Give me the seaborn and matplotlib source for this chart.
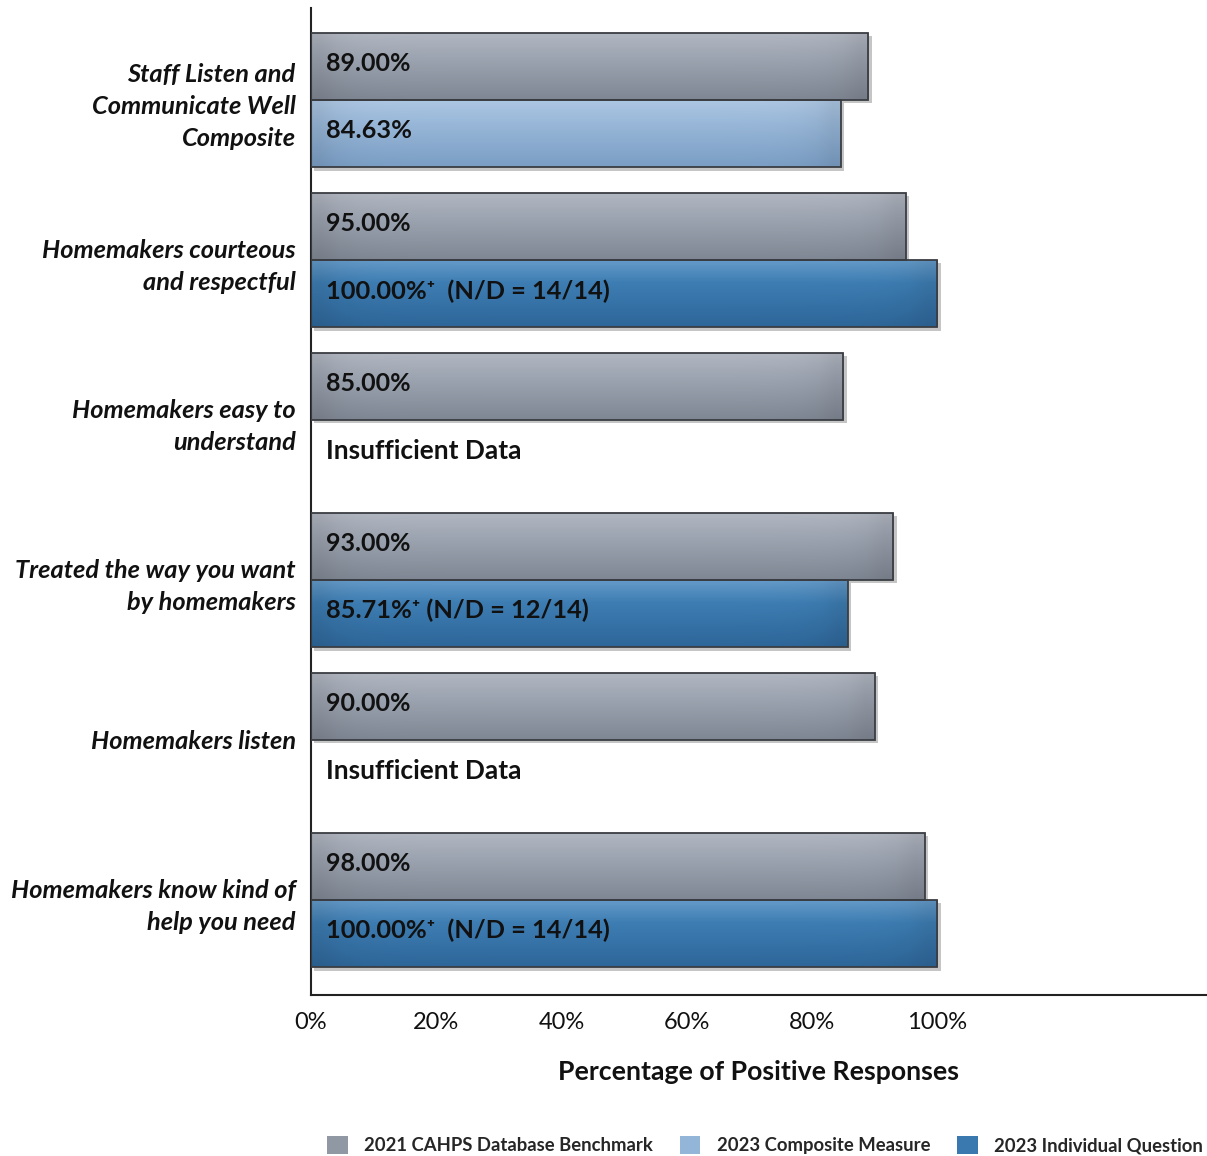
import numpy as np
import pandas as pd
import matplotlib
matplotlib.use("Agg")
import matplotlib.pyplot as plt
import matplotlib.patheffects as pe
from matplotlib.patches import Patch, Rectangle
import seaborn as sns

# ---- data ----
categories = [
    "Staff Listen and\nCommunicate Well\nComposite",
    "Homemakers courteous\nand respectful",
    "Homemakers easy to\nunderstand",
    "Treated the way you want\nby homemakers",
    "Homemakers listen",
    "Homemakers know kind of\nhelp you need",
]
benchmark_2021 = [89.00, 95.00, 85.00, 93.00, 90.00, 98.00]
results_2023 = [84.63, 100.00, None, 85.71, None, 100.00]
result_kind_2023 = ["Composite", "Individual", "Individual", "Individual", "Individual", "Individual"]
labels_2023 = [
    "84.63%",
    "100.00%\u207a  (N/D = 14/14)",
    "Insufficient Data",
    "85.71%\u207a (N/D = 12/14)",
    "Insufficient Data",
    "100.00%\u207a  (N/D = 14/14)",
]
x_ticks = [0, 20, 40, 60, 80, 100]
x_tick_labels = ["0%", "20%", "40%", "60%", "80%", "100%"]
series_names = ["2021 CAHPS Database Benchmark", "2023 Composite Measure", "2023 Individual Question"]

# ---- styling ----
sns.set_theme(style="white")
plt.rcParams["font.family"] = ["Lato", "DejaVu Sans"]

legend_colors = {"Benchmark": "#8f98a3", "Composite": "#93b5d8", "Individual": "#3a79b0"}
# vertical gradient stops (top, upper-middle, bottom) for each bar kind
gradients = {
    "Benchmark": [(0.70, 0.72, 0.76), (0.62, 0.65, 0.70), (0.50, 0.53, 0.58)],
    "Composite": [(0.68, 0.78, 0.89), (0.60, 0.72, 0.85), (0.48, 0.62, 0.77)],
    "Individual": [(0.40, 0.61, 0.79), (0.24, 0.49, 0.70), (0.18, 0.40, 0.60)],
}

rows = []
for cat, bench, val, kind in zip(categories, benchmark_2021, results_2023, result_kind_2023):
    rows.append({"category": cat, "slot": "Benchmark", "value": bench, "kind": "Benchmark"})
    if val is not None:
        rows.append({"category": cat, "slot": "2023", "value": val, "kind": kind})
df = pd.DataFrame(rows)

fig = plt.figure(figsize=(12.07, 11.56), dpi=100)
ax = fig.add_axes([311 / 1207, 1 - 995 / 1156, 1 - 311 / 1207, (995 - 8) / 1156])

sns.barplot(
    data=df, y="category", x="value", hue="slot", hue_order=["Benchmark", "2023"],
    order=categories, orient="h", dodge=True, width=0.84, gap=0,
    errorbar=None, saturation=1, legend=False, ax=ax,
)


def gradient_image(stops, n=64):
    t = np.linspace(0, 1, n)
    stops = np.array(stops)
    pos = np.array([0.0, 0.35, 1.0])
    col = np.stack([np.interp(t, pos, stops[:, c]) for c in range(3)], axis=1)
    img = np.repeat(col[:, None, :], 32, axis=1)
    # slight darkening toward the bar ends
    xs = np.linspace(0, 1, 32)
    shade = 1 - 0.08 * (np.exp(-xs / 0.04) + np.exp(-(1 - xs) / 0.04))
    return np.clip(img * shade[None, :, None], 0, 1)


kind_lookup = {}
for i, kind in enumerate(result_kind_2023):
    kind_lookup[(i, 0)] = "Benchmark"
    kind_lookup[(i, 1)] = kind

for bar in list(ax.patches):
    w = bar.get_width()
    if not np.isfinite(w) or w <= 0:
        continue
    y0, h = bar.get_y(), bar.get_height()
    yc = y0 + h / 2
    idx = int(round(yc))
    slot = 0 if yc < idx else 1
    kind = kind_lookup[(idx, slot)]
    stops = gradients[kind]
    bar.set_facecolor(stops[2])
    bar.set_edgecolor("none")
    bar.set_zorder(2)
    bar.set_path_effects([pe.SimplePatchShadow(offset=(2.5, -2.5), shadow_rgbFace="k", alpha=0.25), pe.Normal()])
    im = ax.imshow(gradient_image(stops), extent=[0, w, y0 + h, y0], aspect="auto",
                   interpolation="bilinear", zorder=2.5)
    im.set_clip_path(bar)
    outline = Rectangle((0, y0), w, h, facecolor="none", edgecolor="#3a3d42", linewidth=1.3, zorder=3)
    ax.add_patch(outline)

ax.set_xlim(0, 143.1)
ax.set_ylim(5.594, -0.575)

# value labels inside the bars
label_kw = dict(textcoords="offset points", va="center", ha="left", fontsize=18,
                fontweight="bold", color="#111111", zorder=4)
for i, (bench, text) in enumerate(zip(benchmark_2021, labels_2023)):
    ax.annotate(f"{bench:.2f}%", xy=(0, i - 0.21), xytext=(11, 2), **label_kw)
    size = 19 if text == "Insufficient Data" else 18.3
    ax.annotate(text, xy=(0, i + 0.21), xytext=(11, 2), **{**label_kw, "fontsize": size})

# axes cosmetics
ax.set_xticks(x_ticks)
ax.set_xticklabels(x_tick_labels, fontsize=17, color="#111111")
ax.tick_params(axis="x", length=0, pad=12)
ax.tick_params(axis="y", length=0, pad=11)
for lab in ax.get_yticklabels():
    lab.set_fontsize(18.3)
    lab.set_fontweight("bold")
    lab.set_fontstyle("italic")
    lab.set_linespacing(1.49)
    lab.set_color("#111111")
ax.set_ylabel("")
ax.set_xlabel("Percentage of Positive Responses", fontsize=19.2, fontweight="bold",
              color="#111111", labelpad=20)
for side in ("top", "right"):
    ax.spines[side].set_visible(False)
for side in ("left", "bottom"):
    ax.spines[side].set_color("#222222")
    ax.spines[side].set_linewidth(1.5)

handles = [Patch(facecolor=legend_colors[k], edgecolor="none") for k in ("Benchmark", "Composite", "Individual")]
fig.legend(handles, series_names, loc="lower center", bbox_to_anchor=(0.634, -0.013), ncol=3,
           frameon=False, prop={"size": 13.3, "weight": "bold"}, handlelength=1.1, handleheight=1.1,
           handletextpad=0.9, columnspacing=1.45)

fig.savefig("out.png", dpi=100, facecolor="white")
